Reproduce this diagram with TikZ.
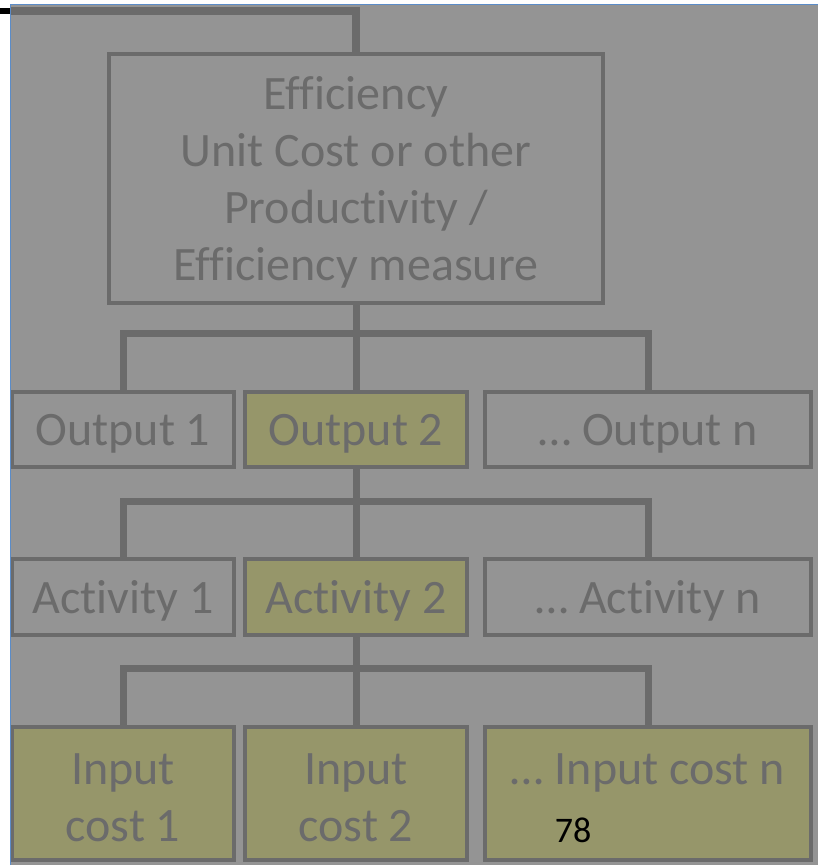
\documentclass[tikz,border=0pt]{standalone}
\usepackage{fontspec}
\setmainfont{Carlito}[Ligatures=NoCommon]
\definecolor{backdrop}{HTML}{949494}
\definecolor{ink}{HTML}{6B6B6B}
\definecolor{olive}{HTML}{96966A}
\definecolor{frameblue}{HTML}{5B8CC8}
\tikzset{
  lbl/.style={inner sep=0pt, text=ink, align=center, yshift=-4pt,
              font=\fontsize{48}{57}\selectfont},
  box/.style={draw=ink, line width=4.5pt, inner sep=0pt},
  hl/.style={box, fill=olive},
  rowbox/.style={minimum width=222pt},
  widebox/.style={minimum width=326pt},
  conn/.style={draw=ink, line width=7pt},
}
\begin{document}
\begin{tikzpicture}[x=1pt, y=-1pt]
\useasboundingbox (0,0) rectangle (818,865);
\fill[white] (0,0) rectangle (818,865);
\fill[backdrop] (10,4) rectangle (818,865);

% top measure box
\node[box, minimum width=494pt, minimum height=249pt,
  label={[lbl]center:{Efficiency\\Unit Cost or other\\Productivity /\\Efficiency measure}}]
  (eff) at (356,178.5) {};

% outputs
\node[box, rowbox, minimum height=75pt, label={[lbl]center:Output 1}] (out1) at (123,429.5) {};
\node[hl,  rowbox, minimum height=75pt, label={[lbl]center:Output 2}] (out2) at (356,429.5) {};
\node[box, widebox, minimum height=75pt, label={[lbl]center:{\dots\ Output n}}] (outn) at (648,429.5) {};

% activities
\node[box, rowbox, minimum height=76pt, label={[lbl]center:Activity 1}] (act1) at (123,597) {};
\node[hl,  rowbox, minimum height=76pt, label={[lbl]center:Activity 2}] (act2) at (356,597) {};
\node[box, widebox, minimum height=76pt, label={[lbl]center:{\dots\ Activity n}}] (actn) at (648,597) {};

% input costs
\node[hl, rowbox, minimum height=133pt, label={[lbl]center:{Input\\cost 1}}] (in1) at (123,793.5) {};
\node[hl, rowbox, minimum height=133pt, label={[lbl]center:{Input\\cost 2}}] (in2) at (356,793.5) {};
\node[hl, widebox, minimum height=133pt,
  label={[lbl]center:{\dots\ Input cost n\\\phantom{x}}}] (inn) at (648,793.5) {};
\node[text=black, inner sep=0pt, font=\fontsize{36}{40}\selectfont]
  (pageno) at (573,830) {78};

% lead-in line at the top
\coordinate (lead) at (11,11);
\draw[conn, line width=8pt] (eff.north) |- (lead);
\draw[black, line width=6pt] (lead) -- ++(-11,0);

% tree connectors
\draw[conn] (eff.south) -- (out2.north);
\draw[conn] (out1.north) -- ++(0,-56) -| (outn.north);

\draw[conn] (out2.south) -- (act2.north);
\draw[conn] (act1.north) -- ++(0,-55) -| (actn.north);

\draw[conn] (act2.south) -- (in2.north);
\draw[conn] (in1.north) -- ++(0,-56) -| (inn.north);

% frame edge
\draw[frameblue, line width=1.5pt] (10.5,865) -- (10.5,4.5) -- (818,4.5);
\end{tikzpicture}
\end{document}
